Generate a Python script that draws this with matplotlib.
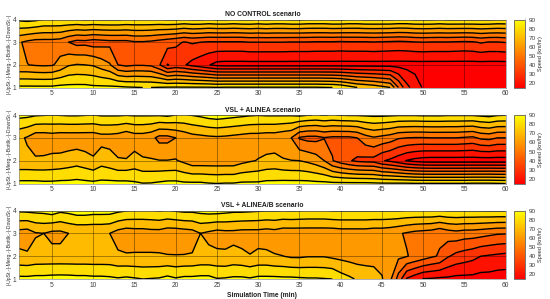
#!/usr/bin/env python
import numpy as np
import matplotlib
matplotlib.use('Agg')
import matplotlib.pyplot as plt

plt.rcParams['font.family'] = ['Liberation Sans', 'DejaVu Sans']

minutes = list(range(1, 61))
sections = [1, 2, 3, 4]
levels = [20, 30, 40, 50, 60, 70, 80, 90]
fill_levels = [0, 20, 30, 40, 50, 60, 70, 80, 90, 120]
xticks = [5, 10, 15, 20, 25, 30, 35, 40, 45, 50, 55, 60]
cticks = [20, 30, 40, 50, 60, 70, 80, 90]
titles = ['NO CONTROL scenario', 'VSL + ALINEA scenario', 'VSL + ALINEA/B scenario']
ylab = '|-UpSt.-|-Merg.-|-Bottlk.-|-DownSt.-|'

# speed (km/h), one list per section, 60 minutes each
nc_up = [92, 92, 92, 92, 92, 93, 93, 93, 93, 92,
         92, 92, 92, 91, 90.5, 90, 90, 90.5, 91, 91,
         91, 91, 91, 91, 90.5, 91, 91, 91, 91, 91,
         91, 91, 91, 91, 91, 91, 91, 90.5, 90,
         88, 84, 80, 78, 76, 73, 70, 50, 33, 25, 19,
         17, 16, 16, 16, 16, 16, 16, 16, 16, 16]
nc_merg = [60.3, 60.2, 59, 58.5, 59, 63, 69, 70.5, 70, 69,
           65, 61, 50, 47.5, 49, 49, 48, 41, 29.5, 33,
           31, 27, 24, 20.5, 17, 16.5, 16.5, 16.5, 16.5, 16.5,
           16.5, 16.5, 16.5, 16.5, 16.5, 16.5, 16.5, 16.5, 16.5, 16.5,
           16.5, 16.5, 16.5, 16.5, 16.5, 16.5, 16.5, 16.5, 16.5, 16.5,
           16.5, 16.5, 16.5, 16.5, 16.5, 16.5, 16.5, 16.5, 16.5, 16.5]
nc_bott = [61, 58, 56, 56, 56, 55, 50, 46.5, 47, 45,
           46, 47, 47, 47, 49, 49, 48, 46, 44, 42,
           39.5, 41, 40, 39, 39, 39, 39, 39, 40, 40,
           40, 40, 40, 39.5, 39.5, 39.5, 39, 39, 39, 38.5,
           39, 39, 39, 39.5, 39, 38.5, 38, 38.5, 39.5, 40,
           39.5, 39.5, 39.5, 39, 38.5, 39, 41, 39.5, 39.5, 40.5]
nc_down = [92, 93, 92, 89.5, 89.5, 89.5, 89.5, 89.5, 90.5, 90,
           90.5, 90.5, 90.5, 89.5, 89.5, 89.5, 89.5, 89.5, 90.5, 90.5,
           89.5, 90.5, 90.5, 89.5, 90.5, 90.5, 89.5, 90.5, 90.5, 89.5,
           90.5, 89.5, 89.5, 90.5, 90.5, 89.5, 89.5, 89.5, 90.5, 90.5,
           89.5, 89.5, 90.5, 90.5, 90.5, 90.5, 89.5, 89.5, 90.5, 90.5,
           90.5, 89.5, 90.5, 90.5, 90.5, 90.5, 90.5, 90.5, 89.5, 89.5]

al_up = [92.5, 92.5, 92.5, 92, 92, 92.5, 92.5, 93, 92.5, 92,
         92.5, 92.5, 92.5, 92.5, 91.5, 90.3, 90.5, 91.5, 92.5, 92.5,
         91.5, 91.5, 91.5, 90.5, 90, 90.5, 90.5, 91.5, 91.5, 91.5, 92.5, 92.5,
         93, 93, 93, 93, 92.5, 92.5, 92, 92, 92, 92, 92, 91.5,
         91, 91, 91, 91, 90.5, 90.5, 90.5, 90.5, 90.5, 90.5, 90.5, 91, 91, 91, 90.5, 90]
al_merg = [72, 72, 71.5, 71.7, 72.3, 73, 74.5, 76, 74, 71.5,
           76, 74, 70.8, 70.8, 73.5, 71, 70.8, 70.3, 70.3, 70.8,
           67.8, 64, 64, 64, 64, 64, 64, 67, 69, 70.5, 72.3, 73,
           71, 70.2, 70, 68, 65, 60, 50.5, 45,
           41, 38, 37, 36.5, 31, 28, 24, 19.5, 17, 15.5,
           15, 15, 15, 15, 15, 15, 15, 15, 15, 15]
al_bott = [72, 69, 64, 64, 65, 64, 64, 64, 64, 64,
           66, 66, 65, 62, 65, 65, 63, 57, 57, 60,
           63, 66, 67, 68, 68.5, 68, 67, 66, 65, 65, 64, 64,
           62, 60, 49, 47, 47, 49.5, 48, 48,
           48, 50, 56, 59, 57, 55, 51, 50, 49.5, 49.5,
           50, 50, 50, 50, 49, 48, 52, 53, 50, 50]
al_down = [93, 92.5, 91, 90.5, 90, 90.5, 91, 91, 90.5, 90,
           91, 91, 91, 90.5, 91, 91, 91, 91, 92, 90,
           89.5, 90.5, 92, 94, 95, 94, 93, 92, 91, 90.5, 91, 91,
           91, 91, 92, 90.5, 89.5, 90.5, 89.5, 90.5,
           91, 91, 91.5, 92, 92, 91.5, 91, 91, 91, 91.5,
           91.5, 91.5, 91, 91, 91, 91, 92, 93, 91, 90.5]

alb_up = [92.4, 92.4, 93, 93, 93.5, 93.7, 93.5, 93, 93, 92.4,
          92.4, 91.9, 91, 91.9, 91, 90, 90.5, 91, 93, 91,
          92.4, 92.4, 93, 93, 90.5, 91, 91.9, 91.9, 91, 92.4,
          92.4, 92.4, 92, 92, 91.5, 91, 91, 90.5, 90,
          85, 82, 79, 77, 75, 70.8,
          62, 46, 29, 24, 19.5, 19, 18, 18, 17, 17, 17, 16, 16, 15, 15]
alb_merg = [72, 71.4, 72.8, 73, 73, 73, 73, 73, 73, 73, 73, 73,
            71.5, 71, 71, 71, 70.8, 70.7, 70.5, 70.4, 70.4, 70.7,
            72, 72, 72, 71.3, 72.8, 72, 70.4, 72, 72, 70.5,
            70.1, 68.6, 68.5, 69.4, 69.4, 69.4, 68, 67, 66, 65, 65, 65.7, 66,
            66, 62, 60.5, 58, 55, 51.5, 49, 41, 37, 35, 33, 30, 29, 28, 27]
alb_bott = [66, 65, 69.3, 70, 67.5, 67.5, 70, 71, 71, 71, 71, 70,
            66, 64, 65, 65, 66, 66, 64, 64, 65, 66,
            70, 68, 66, 67, 67, 66, 66, 66, 65, 66,
            64, 64, 64, 64, 64, 64, 64, 65, 65, 65, 65, 64, 64,
            63, 61, 59, 57, 56, 55, 52, 55, 56.5, 55, 54.8, 53.8, 52.3, 51, 50.7]
alb_down = [91.5, 92, 92.5, 93, 95, 92, 93, 95, 95, 94,
            94, 94, 92, 90.5, 89.5, 89.5, 89.5, 90.5, 89.5, 91,
            92, 92, 93, 94, 94, 93, 92, 92, 91.5, 91, 90.5, 90.5,
            90, 90.5, 90, 89.5, 89.5, 89.5,
            90.5, 90.5, 90.5, 90.5, 90.5, 90.5, 90.5, 90.5, 90.5,
            89.8, 89.8, 89.8, 90, 89.5, 90.5, 90.5, 90.5, 90.5, 90.5, 91, 91, 91]

scenarios = [(nc_up, nc_merg, nc_bott, nc_down),
             (al_up, al_merg, al_bott, al_down),
             (alb_up, alb_merg, alb_bott, alb_down)]

W, H = 550.0, 299.0
tops = [19.5, 115.0, 210.5]
bottoms = [87.5, 183.5, 279.0]

cmap = plt.get_cmap('autumn')
norm = plt.Normalize(15, 90)
# each band takes the colour of its lower level
band_colors = [cmap(norm(max(l, 15))) for l in fill_levels[:-1]]

fig = plt.figure(figsize=(5.5, 2.99), dpi=100)

for i, rows in enumerate(scenarios):
    top, bot = tops[i], bottoms[i]
    ax = fig.add_axes([19 / W, 1 - bot / H, (505.7 - 19) / W, (bot - top) / H])
    z = np.array(rows)
    ax.contourf(minutes, sections, z, levels=fill_levels, colors=band_colors)
    ax.contour(minutes, sections, z, levels=levels, colors='k', linewidths=1.0)
    ax.set_xlim(1, 60)
    ax.set_ylim(1, 4)
    ax.set_xticks(xticks)
    ax.set_yticks(sections)
    ax.grid(True, color='k', alpha=0.35, linewidth=0.7)
    ax.set_axisbelow(False)
    ax.tick_params(labelsize=4.8, length=0, pad=2, colors='#404040')
    for s in ax.spines.values():
        s.set_color('#909090')
        s.set_linewidth(0.5)
    ax.set_title(titles[i], fontsize=4.9, fontweight='bold', pad=2.5, color='#202020')
    ax.set_ylabel(ylab, fontsize=3.7, labelpad=0.8, color='#303030')
    if i == 2:
        ax.set_xlabel('Simulation Time (min)', fontsize=4.8, fontweight='bold', labelpad=2.5, color='#202020')

    cax = fig.add_axes([514 / W, 1 - bot / H, 11 / W, (bot - top) / H])
    cb = fig.colorbar(plt.cm.ScalarMappable(norm=norm, cmap=cmap), cax=cax, ticks=cticks)
    cb.ax.tick_params(labelsize=4.6, length=1, width=0.3, pad=1.5, colors='#404040')
    cb.outline.set_edgecolor('#606060')
    cb.outline.set_linewidth(0.6)
    cb.set_label('Speed (km/hr)', fontsize=4.0, labelpad=1.5, color='#303030')

fig.savefig('out.png', dpi=100)
